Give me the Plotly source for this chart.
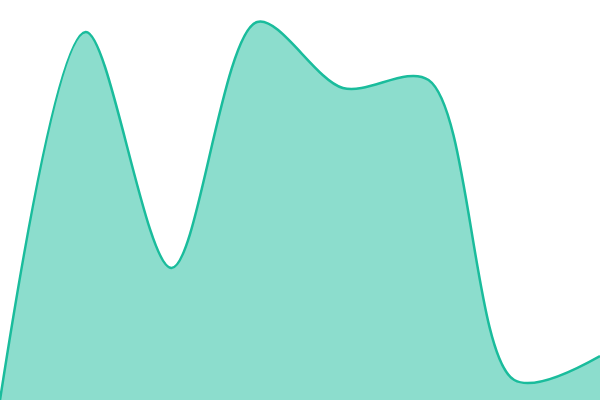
import plotly.graph_objects as go

# Series values (no axes shown in the reference)
x_vals = [0, 1, 2, 3, 4, 5, 6, 7]
y_vals = [0, 92, 33, 94.5, 78, 80, 5, 11]

fig = go.Figure()
fig.add_trace(
    go.Scatter(
        x=x_vals, y=y_vals,
        mode='lines',
        line=dict(color='#1abc9c', width=2.5, shape='spline', smoothing=0.9),
        fill='tozeroy',
        fillcolor='rgba(26,188,156,0.5)',
        hoverinfo='skip',
    )
)

fig.update_layout(
    width=600, height=400,
    margin=dict(l=0, r=0, t=0, b=0),
    paper_bgcolor='white', plot_bgcolor='white',
    showlegend=False,
    xaxis=dict(visible=False, range=[0, 7]),
    yaxis=dict(visible=False, range=[0, 100]),
)

# drop the default body margin so the chart fills the window
fig.write_html("out.html", config={'displayModeBar': False},
               post_script="document.body.style.margin='0';")
